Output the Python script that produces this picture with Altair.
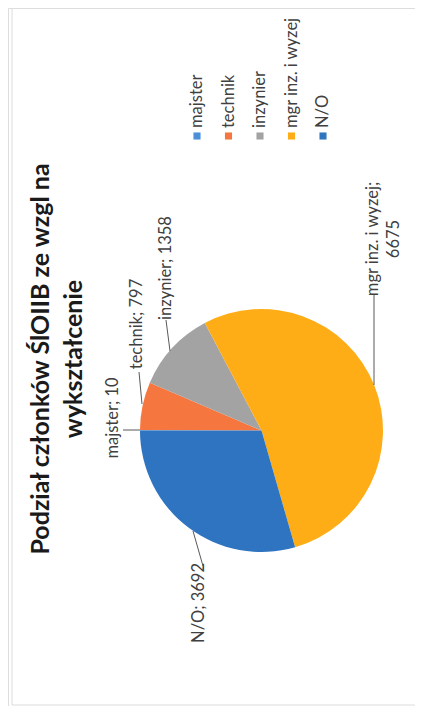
import math
import altair as alt
import pandas as pd

# ---- data ----
categories = ["majster", "technik", "inzynier", "mgr inz. i wyzej", "N/O"]
values = [10, 797, 1358, 6675, 3692]
colors = ["#4a8fd8", "#f5773f", "#a3a3a3", "#ffad17", "#2e74c0"]
title_lines = ["Podział członków ŚlOIIB ze wzgl na", "wykształcenie"]

df = pd.DataFrame({"cat": categories, "value": values, "idx": list(range(len(categories)))})
df["label"] = [f"{c}; {v}" for c, v in zip(categories, values)]

FONT = "Lato"
LBL = 16.5
color_scale = alt.Scale(domain=categories, range=colors)
one = pd.DataFrame({"k": [0]})

# pie (rotated: starts at 9 o'clock, clockwise)
pie = alt.Chart(df).mark_arc(outerRadius=121.5).encode(
    theta=alt.Theta("value:Q", stack=True,
                    scale=alt.Scale(range=[-math.pi / 2, 3 * math.pi / 2])),
    color=alt.Color("cat:N", scale=color_scale, legend=None),
    order=alt.Order("idx:Q"),
    x=alt.value(253.5),
    y=alt.value(422.5),
)

# legend (rotated)
xs = alt.X("cat:N", scale=alt.Scale(type="point", domain=categories, range=[189, 315], padding=0), axis=None)
leg_sq = alt.Chart(df).mark_square(size=50, opacity=1).encode(
    x=xs, y=alt.value(128), color=alt.Color("cat:N", scale=color_scale, legend=None)
)
leg_tx = alt.Chart(df).mark_text(angle=270, align="left", baseline="middle",
                                 font=FONT, fontSize=LBL, color="#404040").encode(
    x=xs, y=alt.value(120), text="cat:N"
)

layers = [pie, leg_sq, leg_tx]

# title
title_pos = [(41, 351), (74, 351)]
for line, (tx, ty) in zip(title_lines, title_pos):
    layers.append(
        alt.Chart(one).mark_text(angle=270, align="center", baseline="alphabetic",
                                 font=FONT, fontSize=25, fontWeight="bold", color="#1a1a1a").encode(
            x=alt.value(tx), y=alt.value(ty), text=alt.value(line))
    )

# data labels
label_texts = [df["label"][0], df["label"][1], df["label"][2],
               "mgr inz. i wyzej;", str(values[3]), df["label"][4]]
label_pos = [(105, 410), (129, 316), (158, 260), (365, 231), (385.5, 231), (191, 595)]
for t, (lx, ly) in zip(label_texts, label_pos):
    layers.append(
        alt.Chart(one).mark_text(angle=270, align="center", baseline="middle",
                                 font=FONT, fontSize=LBL, color="#404040").encode(
            x=alt.value(lx), y=alt.value(ly), text=alt.value(t))
    )

# leader lines
leaders = [((115, 422), (132, 422)), ((131, 364), (134, 396)), ((158, 312), (162, 343)),
           ((366, 287), (366, 377)), ((195, 558), (185, 523))]
for (x1, y1), (x2, y2) in leaders:
    layers.append(
        alt.Chart(one).mark_rule(color="#595959", strokeWidth=1).encode(
            x=alt.value(x1), y=alt.value(y1), x2=alt.value(x2), y2=alt.value(y2))
    )

# faint frame
layers.append(alt.Chart(one).mark_rule(color="#dcdcdc", strokeWidth=1).encode(
    x=alt.value(4), y=alt.value(0), x2=alt.value(4), y2=alt.value(697)))
layers.append(alt.Chart(one).mark_rule(color="#dcdcdc", strokeWidth=1).encode(
    x=alt.value(4), y=alt.value(697), x2=alt.value(407), y2=alt.value(697)))

chart = alt.layer(*layers).properties(
    width=407, height=698, padding=0, autosize=alt.AutoSizeParams(type="none")
).configure_view(stroke=None).configure(background="white")

chart.save("out.html", embed_options={"renderer": "svg", "actions": False})
